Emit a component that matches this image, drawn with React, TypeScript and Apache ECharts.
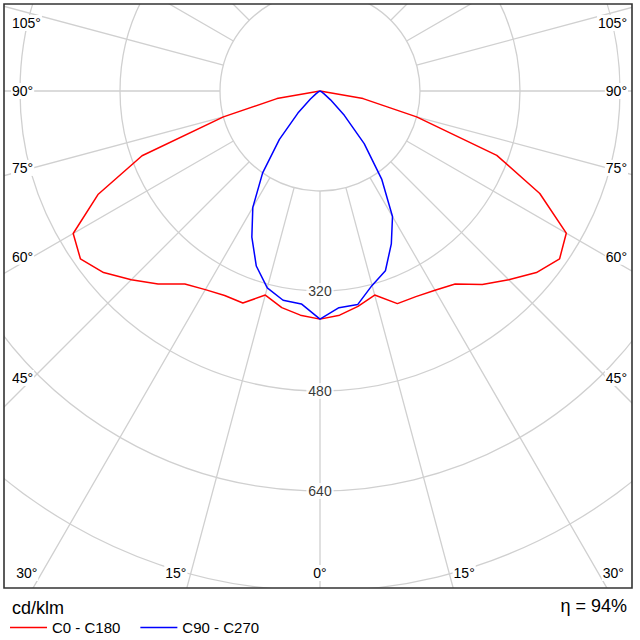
import React, { useEffect, useRef } from "react";
import * as echarts from "echarts";

// ---- data ----
const gammaAngles = [0, 5, 10, 15, 20, 25, 30, 35, 40, 45, 50, 55, 60, 65, 70, 75, 80, 85, 90];
const c0Values = [365, 360, 350, 338, 362, 363, 368, 377, 404, 427, 452, 468, 455, 388, 301, 160, 70, 0, 0];
const c180Values = [365, 360, 352, 338, 361, 361, 367, 377, 403, 427, 452, 468, 456, 392, 303, 160, 70, 0, 0];
const c90Values = [365, 348, 347, 322, 306, 270, 232, 172, 110, 55, 22, 8, 3, 0, 0, 0, 0, 0, 0];
const c270Values = [365, 342, 340, 326, 298, 258, 215, 160, 101, 50, 20, 8, 3, 0, 0, 0, 0, 0, 0];
const radiusLabelTicks = [320, 480, 640];
const sideLabelAngles = [105, 90, 75, 60, 45];
const bottomLabelAngles = [30, 15, 0];
const seriesNames = ["C0 - C180", "C90 - C270"];
const unitLabel = "cd/klm";
const efficiencyLabel = "η = 94%";

// ---- layout / style ----
const CX = 320;
const CY = 91;
const R_MAX_VALUE = 960;
const R_MAX_PX = 600;
const BOX = { x: 4, y: 4, w: 628, h: 584 };
const GRID_COLOR = "#d0d0d0";
const TEXT_COLOR = "#000";
const FONT = '"Liberation Sans", Arial, sans-serif';

// left half (C180 / C270) drawn at 360 - gamma, right half (C0 / C90) at gamma
const buildCurve = (left: number[], right: number[]) => [
  ...gammaAngles.map((g, i) => [left[i], 360 - g]).reverse(),
  ...gammaAngles.map((g, i) => [right[i], g]),
];

function angleLabelGraphics() {
  const els: any[] = [];
  const textStyle = (text: string, align: string) => ({
    text,
    fill: TEXT_COLOR,
    font: `14px ${FONT}`,
    textAlign: align,
    textVerticalAlign: "middle",
    backgroundColor: "#fff",
    padding: [1, 1],
  });
  sideLabelAngles.forEach((g) => {
    const rad = (g * Math.PI) / 180;
    const y = g === 90 ? CY : Math.max(23, CY + 287 / Math.tan(rad));
    els.push({ type: "text", x: 11, y, z: 50, silent: true, style: textStyle(`${g}°`, "left") });
    els.push({ type: "text", x: 628, y, z: 50, silent: true, style: textStyle(`${g}°`, "right") });
  });
  bottomLabelAngles.forEach((g) => {
    const rad = (g * Math.PI) / 180;
    const off = g === 0 ? 0 : 482 * Math.tan(rad) + 15;
    els.push({ type: "text", x: CX - off, y: 573, z: 50, silent: true, style: textStyle(`${g}°`, "center") });
    if (g !== 0) {
      els.push({ type: "text", x: CX + off, y: 573, z: 50, silent: true, style: textStyle(`${g}°`, "center") });
    }
  });
  return els;
}

export default function App() {
  const ref = useRef<HTMLDivElement>(null);

  useEffect(() => {
    if (!ref.current) return;
    const chart = echarts.init(ref.current, undefined, { renderer: "svg" });

    const option: any = {
      animation: false,
      backgroundColor: "#fff",
      polar: [
        { center: [CX, CY], radius: [100, R_MAX_PX] },
        { center: [CX, CY], radius: [0, R_MAX_PX] },
      ],
      angleAxis: [
        {
          polarIndex: 0,
          type: "value",
          min: 0,
          max: 360,
          interval: 15,
          startAngle: 270,
          clockwise: false,
          axisLine: { show: false },
          axisTick: { show: false },
          axisLabel: { show: false },
          splitLine: { show: true, lineStyle: { color: GRID_COLOR, width: 1.3 } },
        },
        {
          polarIndex: 1,
          type: "value",
          min: 0,
          max: 360,
          interval: 15,
          startAngle: 270,
          clockwise: false,
          show: false,
        },
      ],
      radiusAxis: [
        { polarIndex: 0, type: "value", min: 0, max: R_MAX_VALUE, show: false },
        {
          polarIndex: 1,
          type: "value",
          min: 0,
          max: R_MAX_VALUE,
          interval: 160,
          axisLine: { show: false },
          axisTick: { show: false },
          axisLabel: { show: false },
          splitLine: { show: true, lineStyle: { color: GRID_COLOR, width: 1.3 } },
        },
      ],
      legend: {
        data: seriesNames,
        left: 5,
        top: 615,
        icon: "rect",
        itemWidth: 37,
        itemHeight: 1.6,
        itemGap: 20,
        z: 110,
        textStyle: { fontSize: 15, color: TEXT_COLOR, fontFamily: FONT },
      },
      series: [
        {
          name: seriesNames[0],
          type: "line",
          coordinateSystem: "polar",
          polarIndex: 1,
          data: buildCurve(c180Values, c0Values),
          symbol: "none",
          lineStyle: { color: "#ff0000", width: 1.5 },
          itemStyle: { color: "#ff0000" },
          z: 3,
          silent: true,
        },
        {
          name: seriesNames[1],
          type: "line",
          coordinateSystem: "polar",
          polarIndex: 1,
          data: buildCurve(c270Values, c90Values),
          symbol: "none",
          lineStyle: { color: "#0000ff", width: 1.5 },
          itemStyle: { color: "#0000ff" },
          z: 4,
          silent: true,
        },
        {
          name: "radius labels",
          type: "scatter",
          coordinateSystem: "polar",
          polarIndex: 1,
          data: radiusLabelTicks.map((v) => [v, 0]),
          symbolSize: 1,
          itemStyle: { color: "rgba(0,0,0,0)" },
          z: 1,
          silent: true,
          label: {
            show: true,
            position: "inside",
            formatter: (p: any) => String(p.value[0]),
            backgroundColor: "#fff",
            padding: [1, 2],
            color: TEXT_COLOR,
            fontSize: 14,
            fontFamily: FONT,
          },
        },
      ],
      graphic: [
        // masks outside the frame
        { type: "rect", z: 90, silent: true, shape: { x: 0, y: 0, width: 640, height: BOX.y }, style: { fill: "#fff" } },
        { type: "rect", z: 90, silent: true, shape: { x: 0, y: 0, width: BOX.x, height: 640 }, style: { fill: "#fff" } },
        { type: "rect", z: 90, silent: true, shape: { x: BOX.x + BOX.w, y: 0, width: 20, height: 640 }, style: { fill: "#fff" } },
        { type: "rect", z: 90, silent: true, shape: { x: 0, y: BOX.y + BOX.h, width: 640, height: 60 }, style: { fill: "#fff" } },
        // frame
        {
          type: "rect",
          z: 95,
          silent: true,
          shape: { x: BOX.x, y: BOX.y, width: BOX.w, height: BOX.h },
          style: { fill: "none", stroke: "#333", lineWidth: 1.6 },
        },
        ...angleLabelGraphics(),
        {
          type: "text",
          z: 100,
          x: 12,
          y: 608,
          silent: true,
          style: { text: unitLabel, fill: TEXT_COLOR, font: `18px ${FONT}`, textAlign: "left", textVerticalAlign: "middle" },
        },
        {
          type: "text",
          z: 100,
          x: 627,
          y: 606,
          silent: true,
          style: { text: efficiencyLabel, fill: TEXT_COLOR, font: `18px ${FONT}`, textAlign: "right", textVerticalAlign: "middle" },
        },
      ],
    };

    chart.setOption(option);
    return () => chart.dispose();
  }, []);

  return (
    <div
      ref={ref}
      style={{ position: "absolute", left: 0, top: 0, width: 640, height: 640 }}
    />
  );
}
